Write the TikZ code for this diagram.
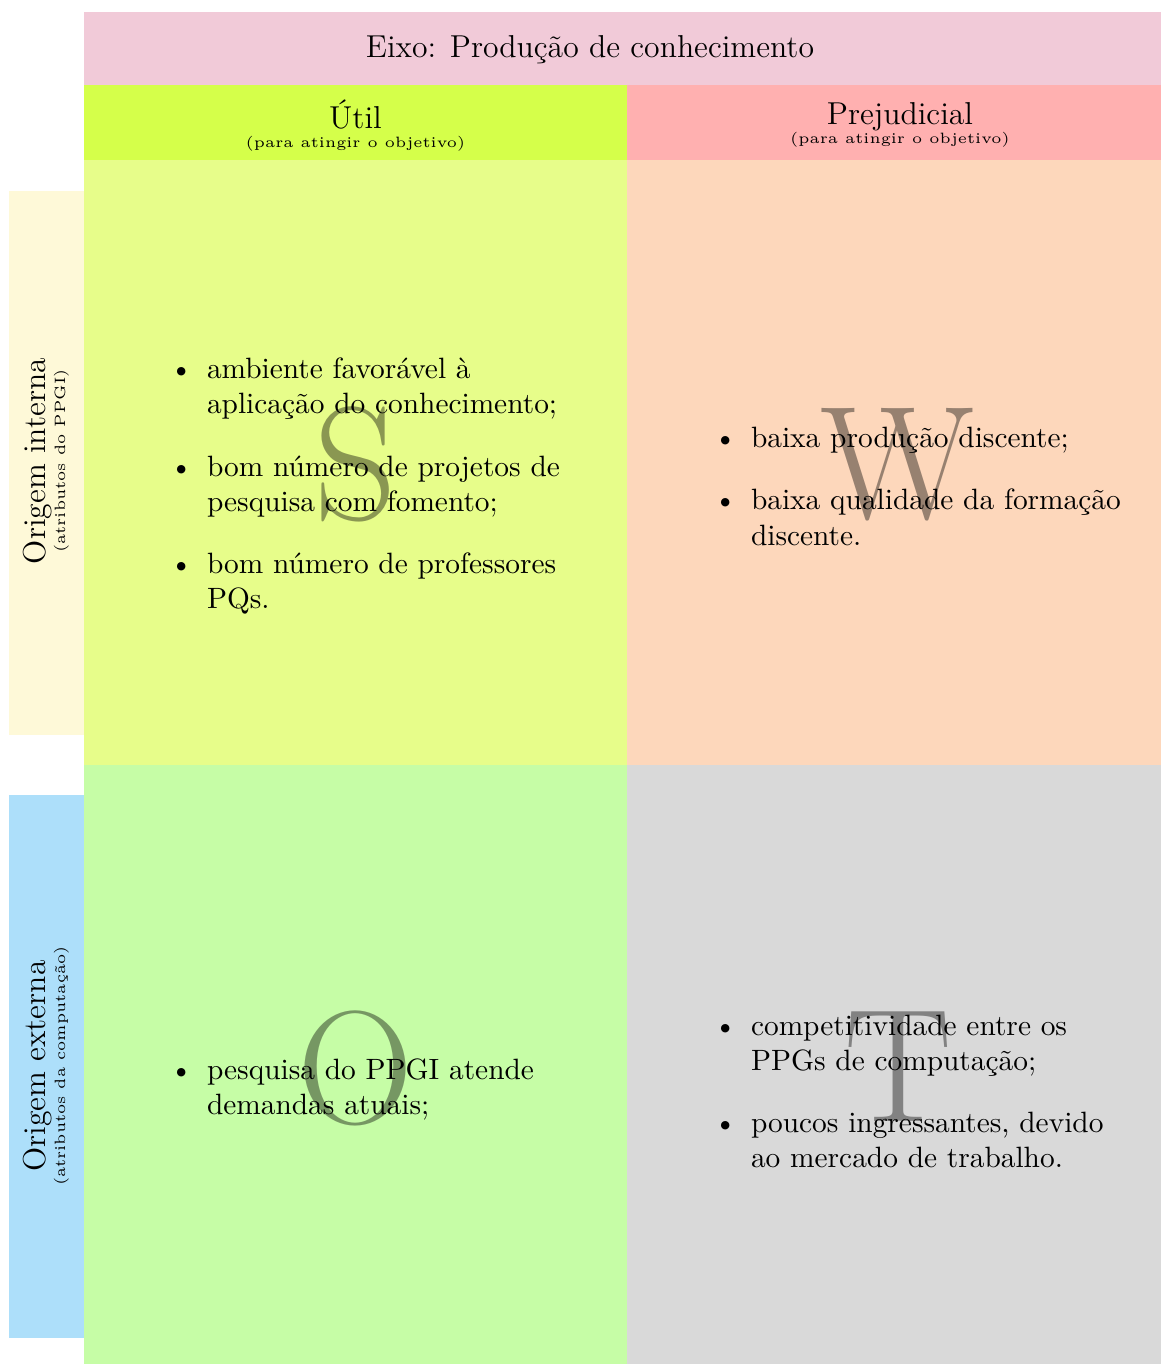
\documentclass[tikz,border=0pt]{standalone}
\usepackage{enumitem}
\setlist[itemize]{topsep=0pt,partopsep=0pt,parsep=0pt,itemsep=9.4pt,leftmargin=25pt}

\definecolor{eixobg}{HTML}{F1CAD8}
\definecolor{utilbg}{HTML}{D5FF4A}
\definecolor{prejbg}{HTML}{FFB0B0}
\definecolor{sbg}{HTML}{E7FD8A}
\definecolor{wbg}{HTML}{FDD7BB}
\definecolor{obg}{HTML}{C6FDA6}
\definecolor{tbg}{HTML}{D9D9D9}
\definecolor{internabg}{HTML}{FEF9D8}
\definecolor{externabg}{HTML}{ADDFFA}

\begin{document}
\begin{tikzpicture}[x=0.3472pt,y=-0.3472pt,
  title/.style={font=\fontsize{11}{13}\selectfont,inner sep=0pt,anchor=base},
  note/.style={font=\fontsize{5.2}{6}\selectfont,inner sep=0pt,anchor=base},
  letter/.style={font=\fontsize{56}{60}\selectfont,text opacity=0.4,inner sep=0pt},
  items/.style={font=\fontsize{10.2}{12.2}\selectfont,text width=154.5pt,inner sep=0pt,align=left}]

  \useasboundingbox (0,0) rectangle (1161,1364);

  % faixas de fundo
  \fill[eixobg] (84,12) rectangle (1161,85);
  \fill[utilbg] (84,85) rectangle (627,160);
  \fill[prejbg] (627,85) rectangle (1161,160);
  \fill[sbg] (84,160) rectangle (627,765);
  \fill[wbg] (627,160) rectangle (1161,765);
  \fill[obg] (84,765) rectangle (627,1364);
  \fill[tbg] (627,765) rectangle (1161,1364);
  \fill[internabg] (9,191) rectangle (84,735);
  \fill[externabg] (9,795) rectangle (84,1338);

  % cabecalhos
  \node[title] (eixo) at (590,57) {Eixo: Produção de conhecimento};
  \node[title] (util) at (355.5,128) {Útil};
  \node[note] (utilnote) at (355.5,147) {(para atingir o objetivo)};
  \node[title] (prej) at (900,124) {Prejudicial};
  \node[note] (prejnote) at (900,143) {(para atingir o objetivo)};
  \node[title,rotate=90] (interna) at (45,461) {Origem interna};
  \node[note,rotate=90] (internanote) at (65,461) {(atributos do PPGI)};
  \node[title,rotate=90] (externa) at (45,1066) {Origem externa};
  \node[note,rotate=90] (externanote) at (65,1066) {(atributos da computação)};

  % letras
  \node[letter] (S) at (355.5,464) {S};
  \node[letter] (W) at (898,465) {W};
  \node[letter] (O) at (355.5,1068) {O};
  \node[letter] (T) at (898,1067) {T};

  % listas
  \node[items] (forcas) at (357.5,479) {\raggedright
    \begin{itemize}
      \item ambiente favorável à aplicação do conhecimento;
      \item bom número de projetos de pesquisa com fomento;
      \item bom número de professores PQs.
    \end{itemize}};
  \node[items] (fraquezas) at (901.5,479) {\raggedright
    \begin{itemize}
      \item baixa produção discente;
      \item baixa qualidade da formação discente.
    \end{itemize}};
  \node[items] (oportunidades) at (357.5,1082) {\raggedright
    \begin{itemize}
      \item pesquisa do PPGI atende demandas atuais;
    \end{itemize}};
  \node[items] (ameacas) at (901.5,1084) {\raggedright
    \begin{itemize}
      \item competitividade entre os PPGs de computação;
      \item poucos ingressantes, devido ao mercado de trabalho.
    \end{itemize}};
\end{tikzpicture}
\end{document}
